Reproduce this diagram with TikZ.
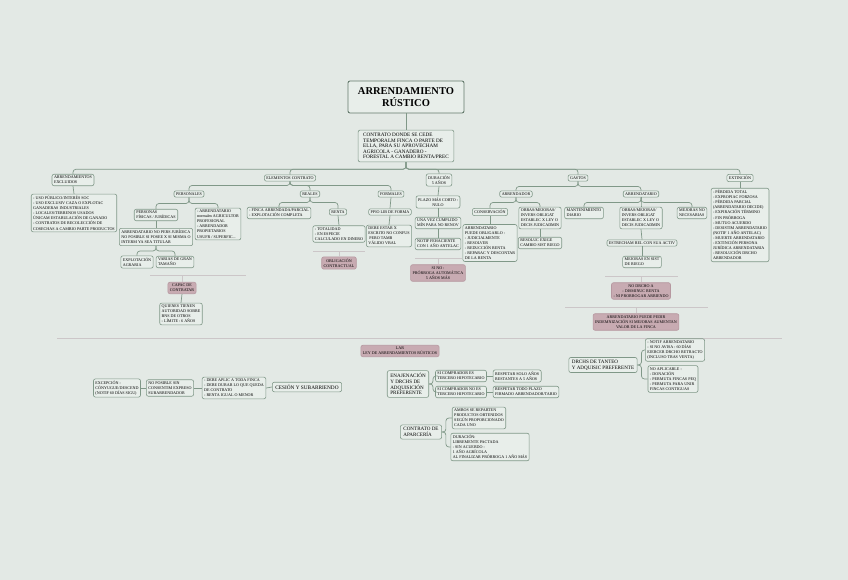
\documentclass[tikz,border=0pt]{standalone}
\usepackage{fontspec}
\setmainfont{Liberation Serif}
\usetikzlibrary{positioning}
\definecolor{bgcol}{RGB}{227,233,229}
\definecolor{nodef}{RGB}{232,238,234}
\definecolor{bord} {RGB}{128,152,136}
\definecolor{titd} {RGB}{100,122,108}
\definecolor{pinkf}{RGB}{200,171,178}
\definecolor{pinkd}{RGB}{182,152,160}
\definecolor{sepc} {RGB}{204,198,200}

\tikzset{
  base/.style={draw=bord, fill=nodef, rounded corners=2pt, line width=0.6pt,
               inner xsep=2pt, inner ysep=1.8pt, align=left,
               font=\fontsize{4.1}{5.1}\selectfont},
  mid/.style={base, inner xsep=3pt, inner ysep=2.5pt,
              font=\fontsize{5.1}{5.8}\selectfont},
  pinkbox/.style={base, fill=pinkf, draw=pinkd, align=center},
  conn/.style={draw=bord, line width=0.7pt, rounded corners=3pt},
  divider/.style={draw=sepc, line width=0.6pt},
}

\begin{document}
\begin{tikzpicture}[x=1pt, y=-1pt]
  \fill[bgcol] (0,0) rectangle (848,580);
  \useasboundingbox (0,0) rectangle (848,580);

  % title and definition
  \node[base, draw=titd, line width=0.9pt, minimum width=116pt, minimum height=32pt,
        align=center, font=\fontsize{10.5}{11.7}\selectfont\bfseries] (title) at (406,97)
        {ARRENDAMIENTO\\RÚSTICO};
  \node[base, inner xsep=5pt, inner ysep=3pt, font=\fontsize{5.2}{5.6}\selectfont]
        (cent) at (406,146)
        {CONTRATO DONDE SE CEDE\\TEMPORALM FINCA O PARTE DE\\ELLA, PARA SU APROVECHAM\\
         AGRICOLA - GANADERO -\\FORESTAL A CAMBIO RENTA/PREC};
  \draw[conn] (title.south) -- (cent.north);

  % first level
  \node[base] (excl) at (73,180) {ARRENDAMIENTOS\\EXCLUIDOS};
  \node[base] (elem) at (290,178) {ELEMENTOS CONTRATO};
  \node[base, align=center] (dur) at (439,180) {DURACIÓN\\5 AÑOS};
  \node[base] (gast) at (578,178) {GASTOS};
  \node[base] (ext) at (740,178) {EXTINCIÓN};
  \foreach \n in {excl,elem,dur,gast,ext}
    \draw[conn] (cent.south) -- ++(0,7) -| (\n.north);

  % excluidos
  \node[base] (excll) at (74,213)
        {- USO PÚBLICO/INTERÉS SOC\\- USO EXCLUSIV CAZA O EXPLOTAC\\GANADERAS INDUSTRIALES\\
         - LOCALES/TERRENOS USADOS\\ÚNICAM ESTABULACIÓN DE GANADO\\
         - CONTRATOS DE RECOLECCIÓN DE\\COSECHAS A CAMBIO PARTE PRODUCTOS};
  \draw[conn] (excl.south) -- (excll.north);

  % elementos
  \node[base] (pers) at (189,194) {PERSONALES};
  \node[base] (real) at (310,194) {REALES};
  \node[base] (form) at (391,194) {FORMALES};
  \foreach \n in {pers,real,form}
    \draw[conn] (elem.south) -- ++(0,4) -| (\n.north);

  \node[base] (pfj) at (156,215) {PERSONAS\\FÍSICAS / JURÍDICAS};
  \node[base] (roles) at (218,224)
        {- ARRENDATARIO\\normalm AGRICULTOR\\PROFESIONAL\\- ARRENDADOR\\PROPIETARIOS\\USUFR / SUPERFIC...};
  \foreach \n in {pfj,roles}
    \draw[conn] (pers.south) -- ++(0,6) -| (\n.north);
  \node[base] (nopj) at (156,237)
        {ARRENDATARIO NO PERS JURÍDICA\\NO POSIBLE SI POSEE X SI MISMA O\\INTERM YA SEA TITULAR};
  \draw[conn] (pfj.south) -- (nopj.north);
  \node[base] (expl) at (137,262) {EXPLOTACIÓN\\AGRARIA};
  \node[base] (var) at (175,262) {VARIAS DE GRAN\\TAMAÑO};
  \foreach \n in {expl,var}
    \draw[conn] (nopj.south) -- ++(0,5) -| (\n.north);
  \draw[divider] (150,275) -- (246,275);
  \coordinate (d1) at (182,275);
  \node[pinkbox] (capac) at (182,288) {CAPAC DE\\CONTRATAR};
  \draw[divider] (d1) -- (capac.north);
  \node[base] (quien) at (181,314)
        {QUIENES TIENEN\\AUTORIDAD SOBRE\\BNS DE OTROS\\- LÍMITE : 6 AÑOS};
  \draw[conn] (capac.south) -- (quien.north);

  \node[base] (fincas) at (279,213) {- FINCA ARRENDADA/PARCIAL\\- EXPLOTACIÓN COMPLETA};
  \node[base] (renta) at (338,212) {RENTA};
  \foreach \n in {fincas,renta}
    \draw[conn] (real.south) -- ++(0,5) -| (\n.north);
  \node[base] (rental) at (339,234) {- TOTALIDAD\\- EN ESPECIE\\CALCULADO EN DINERO};
  \draw[conn] (renta.south) -- (rental.north);
  \draw[divider] (313,251) -- (365,251);
  \coordinate (d2) at (339,251);
  \node[pinkbox] (oblig) at (339,263) {OBLIGACIÓN\\CONTRACTUAL};
  \draw[divider] (d2) -- (oblig.north);

  \node[base] (ppio) at (390,212) {PPIO LIB DE FORMA};
  \draw[conn] (form.south) -- (ppio.north);
  \node[base] (debe) at (389,236) {DEBE ESTAR X\\ESCRITO NO CONFUS\\\ PERO TAMB\\VÁLIDO VBAL};
  \draw[conn] (ppio.south) -- (debe.north);

  % duracion
  \node[base, align=center] (plazo) at (438,202) {PLAZO MÁS CORTO :\\NULO};
  \node[base] (unavez) at (438,223) {UNA VEZ CUMPLIDO\\MÍN PARA NO RENOV};
  \node[base] (notif) at (438,244) {NOTIF FEHACIENTE\\CON 1 AÑO ANTELAC};
  \draw[conn] (dur.south) -- (plazo.north);
  \draw[conn] (plazo.south) -- (unavez.north);
  \draw[conn] (unavez.south) -- (notif.north);
  \draw[divider] (415,258) -- (462,258);
  \coordinate (d3) at (438,258);
  \node[pinkbox] (sino) at (438,273) {SI NO :\\PRÓRROGA AUTOMÁTICA\\5 AÑOS MÁS};
  \draw[divider] (d3) -- (sino.north);

  % gastos
  \node[base] (arrdor) at (516,194) {ARRENDADOR};
  \node[base] (arrtario) at (641,194) {ARRENDATARIO};
  \foreach \n in {arrdor,arrtario}
    \draw[conn] (gast.south) -- ++(0,5) -| (\n.north);

  \node[base] (cons) at (490,212) {CONSERVACIÓN};
  \node[base] (obrasa) at (540,218)
        {OBRAS/MEJORAS/\\INVERS OBLIGAT\\ESTABLEC X LEY O\\DECIS JUDICADMIN};
  \foreach \n in {cons,obrasa}
    \draw[conn] (arrdor.south) -- ++(0,5) -| (\n.north);
  \node[base] (consl) at (490,243)
        {ARRENDATARIO\\PUEDE OBLIGARLO :\\- JUDICIALMENTE\\- RESOLVER\\- REDUCCIÓN RENTA\\
         - REPARAC Y DESCONTAR\\DE LA RENTA};
  \draw[conn] (cons.south) -- (consl.north);
  \node[base] (resol) at (540,243) {RESOLUC EXIGE\\CAMBIO SIST RIEGO};
  \draw[conn] (obrasa.south) -- (resol.north);

  \node[base] (mant) at (584,213) {MANTENIMIENTO\\DIARIO};
  \node[base] (obrasb) at (641,218)
        {OBRAS/MEJORAS/\\INVERS OBLIGAT\\ESTABLEC X LEY O\\DECIS JUDICADMIN};
  \node[base] (mejnn) at (692,213) {MEJORAS NO\\NECESARIAS};
  \foreach \n in {mant,obrasb,mejnn}
    \draw[conn] (arrtario.south) -- ++(0,5) -| (\n.north);
  \node[base] (estre) at (642,243) {ESTRECHAM REL CON SUA ACTIV};
  \draw[conn] (obrasb.south) -- (estre.north);
  \node[base] (mejr) at (642,262) {MEJORAS EN SIST\\DE RIEGO};
  \draw[conn] (estre.south) -- (mejr.north);
  \draw[divider] (605,276) -- (678,276);
  \coordinate (d4) at (641,276);
  \node[pinkbox] (nodr) at (641,291) {NO DRCHO A\\- DISMINUC RENTA\\- NI PRORROGAR ARRIENDO};
  \draw[divider] (d4) -- (nodr.north);
  \draw[divider] (565,307) -- (708,307);
  \coordinate (d5) at (636,307);
  \node[pinkbox] (indem) at (636,322)
        {ARRENDATARIO PUEDE PEDIR\\INDEMNIZACIÓN SI MEJORAS AUMENTAN\\VALOR DE LA FINCA};
  \draw[divider] (d5) -- (indem.north);

  % extincion
  \node[base] (extl) at (740,225)
        {- PÉRDIDA TOTAL\\- EXPROPIAC FORZOSA\\- PÉRDIDA PARCIAL\\(ARRENDATARIO DECIDE)\\
         - EXPIRACIÓN TÉRMINO\\- FIN PRÓRROGA\\- MUTUO ACUERDO\\- DESISTIM ARRENDATARIO\\
         (NOTIF 1 AÑO ANTELAC)\\- MUERTE ARRENDATARIO\\- EXTINCIÓN PERSONA\\
         JURÍDICA ARRENDATARIA\\- RESOLUCIÓN DRCHO\\ARRENDADOR};
  \draw[conn] (ext.south) -- (extl.north);

  % LAR
  \draw[divider] (57,338) -- (782,338);
  \node[pinkbox] (lar) at (400,351) {LAR\\LEY DE ARRENDAMIENTOS RÚSTICOS};

  % cesion
  \node[mid, font=\fontsize{5.3}{6}\selectfont] (ces) at (307,387) {CESIÓN Y SUBARRIENDO};
  \node[base] (reglas) at (234,388)
        {- DEBE APLIC A TODA FINCA\\- DEBE DURAR LO QUE QUEDA\\DE CONTRATO\\- RENTA IGUAL O MENOR};
  \node[base] (nopos) at (170,388) {NO POSIBLE SIN\\CONSENTIM EXPRESO\\SUBARRENDADOR};
  \node[base] (excep) at (117,388) {EXCEPCIÓN :\\CÓNYUGUE/DESCEND\\(NOTIF 60 DÍAS SIGU)};
  \draw[conn] (ces.west) -- (reglas.east);
  \draw[conn] (reglas.west) -- (nopos.east);
  \draw[conn] (nopos.west) -- (excep.east);

  % enajenacion
  \node[mid] (enaj) at (408,384) {ENAJENACIÓN\\Y DRCHS DE\\ADQUISICIÓN\\PREFERENTE};
  \node[base] (sicomp) at (461,376) {SI COMPRADOR ES\\TERCERO HIPOTECARIO};
  \node[base] (sinocomp) at (461,392) {SI COMPRADOR NO ES\\TERCERO HIPOTECARIO};
  \node[base, right=6pt of sicomp] (respsolo) {RESPETAR SOLO AÑOS\\RESTANTES A 5 AÑOS};
  \node[base, right=6pt of sinocomp] (resptodo) {RESPETAR TODO PLAZO\\FIRMADO ARRENDADOR/TARIO};
  \foreach \n in {sicomp,sinocomp}
    \draw[conn] (enaj.east) -- ++(4,0) |- (\n.west);
  \draw[conn] (sicomp.east) -- (respsolo.west);
  \draw[conn] (sinocomp.east) -- (resptodo.west);

  % aparceria
  \node[mid] (apar) at (421,432) {CONTRATO DE\\APARCERÍA};
  \node[base] (ambos) at (479,418)
        {AMBOS SE REPARTEN\\PRODUCTOS OBTENIDOS\\SEGÚN PROPORCIONADO\\CADA UNO};
  \node[base] (durac) at (490,447)
        {DURACIÓN:\\LIBREMENTE PACTADA\\- SIN ACUERDO :\\1 AÑO AGRÍCOLA\\AL FINALIZAR PRÓRROGA 1 AÑO MÁS};
  \foreach \n in {ambos,durac}
    \draw[conn] (apar.east) -- ++(4,0) |- (\n.west);

  % tanteo
  \node[mid] (tanteo) at (603,365) {DRCHS DE TANTEO\\Y ADQUISIC PREFERENTE};
  \node[base] (notifa) at (675,350)
        {- NOTIF ARRENDATARIO\\- SI NO AVISA : 60 DÍAS\\EJERCER DRCHO RETRACTO\\(INCLUSO TRAS VENTA)};
  \node[base] (noapl) at (673,379)
        {NO APLICABLE :\\- DONACIÓN\\- PERMUTA FINCAS PEQ\\- PERMUTA PARA UNIR\\FINCAS CONTIGUAS};
  \foreach \n in {notifa,noapl}
    \draw[conn] (tanteo.east) -- ++(4,0) |- (\n.west);
\end{tikzpicture}
\end{document}
